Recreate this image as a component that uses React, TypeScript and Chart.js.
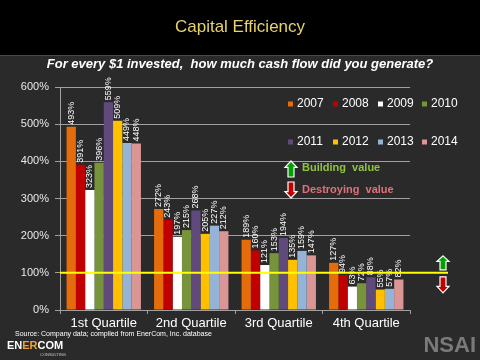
import React, { useEffect, useRef } from "react";
import { Chart, registerables } from "chart.js";

Chart.register(...registerables);

const categories = ["1st Quartile", "2nd Quartile", "3rd Quartile", "4th Quartile"];
const years = ["2007", "2008", "2009", "2010", "2011", "2012", "2013", "2014"];
const v2007 = [493, 272, 189, 127];
const v2008 = [391, 243, 160, 94];
const v2009 = [323, 197, 121, 63];
const v2010 = [396, 215, 153, 72];
const v2011 = [559, 268, 194, 88];
const v2012 = [509, 205, 135, 55];
const v2013 = [449, 227, 159, 57];
const v2014 = [448, 212, 147, 82];
const seriesValues = [v2007, v2008, v2009, v2010, v2011, v2012, v2013, v2014];
const yearColors = ["#e46c0a", "#c00000", "#ffffff", "#77933c", "#604a7b", "#ffc000", "#95b3d7", "#d99694"];
const yTicks = [0, 100, 200, 300, 400, 500, 600];
const thresholdValue = 100;

const BG = "#2a2a2a";

function drawBlockArrow(ctx: CanvasRenderingContext2D, cx: number, top: number, bottom: number, up: boolean, fill: string) {
  const headW = 12, shaftW = 6;
  const h = bottom - top;
  const headH = h * 0.4;
  ctx.save();
  ctx.beginPath();
  if (up) {
    ctx.moveTo(cx, top);
    ctx.lineTo(cx + headW / 2, top + headH);
    ctx.lineTo(cx + shaftW / 2, top + headH);
    ctx.lineTo(cx + shaftW / 2, bottom);
    ctx.lineTo(cx - shaftW / 2, bottom);
    ctx.lineTo(cx - shaftW / 2, top + headH);
    ctx.lineTo(cx - headW / 2, top + headH);
  } else {
    ctx.moveTo(cx, bottom);
    ctx.lineTo(cx + headW / 2, bottom - headH);
    ctx.lineTo(cx + shaftW / 2, bottom - headH);
    ctx.lineTo(cx + shaftW / 2, top);
    ctx.lineTo(cx - shaftW / 2, top);
    ctx.lineTo(cx - shaftW / 2, bottom - headH);
    ctx.lineTo(cx - headW / 2, bottom - headH);
  }
  ctx.closePath();
  ctx.fillStyle = fill;
  ctx.fill();
  ctx.strokeStyle = "#ffffff";
  ctx.lineWidth = 1.2;
  ctx.stroke();
  ctx.restore();
}

const decorPlugin = {
  id: "decor",
  beforeDraw(chart: any) {
    const ctx = chart.ctx as CanvasRenderingContext2D;
    ctx.save();
    ctx.fillStyle = BG;
    ctx.fillRect(0, 0, chart.width, chart.height);
    ctx.fillStyle = "#000000";
    ctx.fillRect(0, 0, chart.width, 55);
    ctx.fillStyle = "#4a4a4a";
    ctx.fillRect(0, 55, chart.width, 1);
    ctx.fillStyle = "#e6d36a";
    ctx.font = "17px 'Liberation Sans', Arial, sans-serif";
    ctx.textAlign = "center";
    ctx.textBaseline = "middle";
    ctx.fillText("Capital Efficiency", 240, 27);
    ctx.fillStyle = "#ffffff";
    ctx.font = "italic bold 13px 'Liberation Sans', Arial, sans-serif";
    ctx.fillText("For every $1 invested,  how much cash flow did you generate?", 240, 64);
    ctx.restore();
  },
  afterDatasetsDraw(chart: any) {
    const ctx = chart.ctx as CanvasRenderingContext2D;
    const yScale = chart.scales.y;
    const area = chart.chartArea;
    ctx.save();
    ctx.fillStyle = "#ffffff";
    ctx.font = "9px 'Liberation Sans', Arial, sans-serif";
    ctx.textAlign = "left";
    ctx.textBaseline = "middle";
    chart.data.datasets.forEach((ds: any, di: number) => {
      const meta = chart.getDatasetMeta(di);
      meta.data.forEach((bar: any, i: number) => {
        const val = ds.data[i];
        ctx.save();
        ctx.translate(bar.x, bar.y - 2);
        ctx.rotate(-Math.PI / 2);
        ctx.fillText(val + "%", 0, 0);
        ctx.restore();
      });
    });
    const yy = yScale.getPixelForValue(thresholdValue);
    ctx.strokeStyle = "#ffff00";
    ctx.lineWidth = 2;
    ctx.beginPath();
    ctx.moveTo(area.left, yy);
    ctx.lineTo(448, yy);
    ctx.stroke();
    drawBlockArrow(ctx, 443, yy - 17, yy - 3, true, "#00a000");
    drawBlockArrow(ctx, 443, yy + 4, yy + 20, false, "#c00000");
    ctx.font = "12px 'Liberation Sans', Arial, sans-serif";
    ctx.textBaseline = "middle";
    ctx.textAlign = "left";
    const legX = [288, 333, 378, 422];
    const legY = [104, 142];
    years.forEach((yr, k) => {
      const row = Math.floor(k / 4);
      const col = k % 4;
      const x = legX[col];
      const y = legY[row];
      ctx.fillStyle = yearColors[k];
      ctx.fillRect(x, y - 2.5, 5, 5);
      ctx.fillStyle = "#ffffff";
      ctx.fillText(yr, x + 9, y);
    });
    drawBlockArrow(ctx, 291, 161, 177, true, "#00a000");
    drawBlockArrow(ctx, 291, 182, 198, false, "#c00000");
    ctx.font = "bold 11px 'Liberation Sans', Arial, sans-serif";
    ctx.fillStyle = "#8fc43f";
    ctx.fillText("Building  value", 302, 168);
    ctx.fillStyle = "#e0707a";
    ctx.fillText("Destroying  value", 302, 190);
    ctx.restore();
  },
  afterDraw(chart: any) {
    const ctx = chart.ctx as CanvasRenderingContext2D;
    ctx.save();
    ctx.textAlign = "left";
    ctx.textBaseline = "middle";
    ctx.fillStyle = "#ffffff";
    ctx.font = "7px 'Liberation Sans', Arial, sans-serif";
    ctx.fillText("Source: Company data; compiled from EnerCom, Inc. database", 15, 334);
    ctx.font = "bold 11px 'Liberation Sans', Arial, sans-serif";
    ctx.fillStyle = "#ffffff";
    ctx.fillText("EN", 7, 346);
    const w1 = ctx.measureText("EN").width;
    ctx.fillStyle = "#f0a030";
    ctx.fillText("ER", 7 + w1, 346);
    const w2 = ctx.measureText("ER").width;
    ctx.fillStyle = "#ffffff";
    ctx.fillText("COM", 7 + w1 + w2, 346);
    ctx.font = "4px 'Liberation Sans', Arial, sans-serif";
    ctx.fillStyle = "#cccccc";
    ctx.fillText("CONSULTING", 40, 355);
    ctx.font = "bold 22px 'Liberation Sans', Arial, sans-serif";
    ctx.fillStyle = "#7a7a7a";
    ctx.textAlign = "right";
    ctx.fillText("NSAI", 476, 346);
    ctx.restore();
  },
};

export default function App() {
  const ref = useRef<HTMLCanvasElement | null>(null);
  useEffect(() => {
    if (!ref.current) return;
    const chart = new Chart(ref.current, {
      type: "bar",
      data: {
        labels: categories,
        datasets: years.map((yr, k) => ({
          label: yr,
          data: seriesValues[k],
          backgroundColor: yearColors[k],
          borderWidth: 0,
          categoryPercentage: 0.85,
          barPercentage: 1.0,
        })),
      },
      options: {
        responsive: false,
        animation: false,
        devicePixelRatio: 1,
        layout: { padding: { left: 0, right: 70, top: 87, bottom: 25 } },
        plugins: {
          legend: { display: false },
          tooltip: { enabled: false },
          title: { display: false },
        },
        scales: {
          x: {
            grid: {
              display: true,
              drawOnChartArea: false,
              color: "#a0a0a0",
              tickLength: 4,
              offset: true,
            },
            border: { color: "#a0a0a0" },
            ticks: {
              color: "#ffffff",
              font: { size: 13, family: "'Liberation Sans', Arial, sans-serif" },
              padding: 2,
              maxRotation: 0,
            },
            afterFit: (s: any) => { s.height = 25; },
          },
          y: {
            min: 0,
            max: 600,
            afterBuildTicks: (s: any) => { s.ticks = yTicks.map((v) => ({ value: v })); },
            grid: { color: "#a0a0a0", tickLength: 5 },
            border: { color: "#a0a0a0" },
            ticks: {
              color: "#e8e8e8",
              font: { size: 11, family: "'Liberation Sans', Arial, sans-serif" },
              padding: 6,
              callback: (v: any) => v + "%",
            },
            afterFit: (s: any) => { s.width = 60; },
          },
        },
      },
      plugins: [decorPlugin],
    });
    return () => chart.destroy();
  }, []);
  return (
    <div style={{ position: "fixed", left: 0, top: 0, width: 480, height: 360, background: BG }}>
      <canvas ref={ref} width={480} height={360} style={{ display: "block" }} />
    </div>
  );
}
